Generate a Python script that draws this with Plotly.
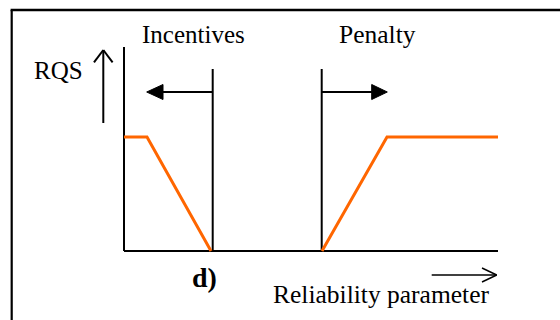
import plotly.graph_objects as go

# RQS curve, x = reliability parameter, y = RQS level (pixel-like units from the sketch)
incentive_x = [0, 23, 87]
incentive_y = [114, 114, 0]
penalty_x = [198, 263, 374]
penalty_y = [0, 114, 114]

ORANGE = "#FF6600"
FONT = "Liberation Serif"

fig = go.Figure()

fig.add_trace(go.Scatter(x=incentive_x, y=incentive_y, mode="lines",
                         line=dict(color=ORANGE, width=3)))
fig.add_trace(go.Scatter(x=penalty_x, y=penalty_y, mode="lines",
                         line=dict(color=ORANGE, width=3)))


def seg(x0, y0, x1, y1, w=2):
    fig.add_shape(type="line", x0=x0, y0=y0, x1=x1, y1=y1,
                  line=dict(color="black", width=w), layer="below")


def tri(path):
    fig.add_shape(type="path", path=path, fillcolor="black",
                  line=dict(color="black", width=1))


# frame (left and top edges only)
seg(-112.3, -80, -112.3, 241, 2.2)
seg(-113.4, 241, 440, 241, 2.6)

# axes
seg(0, 0, 0, 204)
seg(0, 0, 374, 0)

# threshold lines
seg(88.7, 0, 88.7, 182)
seg(197.7, 0, 197.7, 182)

# incentive arrow (left)
seg(39, 159, 88.7, 159)
tri("M 22.7 159 L 39 166.5 L 39 151.5 Z")

# penalty arrow (right)
seg(197.7, 159, 248, 159)
tri("M 263.3 159 L 247.7 166.5 L 247.7 151.5 Z")

# RQS up arrow (open head)
seg(-20.7, 128, -20.7, 201)
seg(-30, 188.7, -20.7, 201)
seg(-11.4, 188.7, -20.7, 201)

# reliability arrow (open head)
seg(307.7, -24, 372.7, -24, 1.4)
seg(358, -17, 372.7, -24, 1.4)
seg(358, -31, 372.7, -24, 1.4)

labels = [
    ("Incentives", 69.3, 217, 25, False),
    ("Penalty", 253.5, 217, 25.5, False),
    ("RQS", -66, 181, 25, False),
    ("d)", 80, -26, 28, True),
    ("Reliability parameter", 256.5, -43.5, 25.5, False),
]
for txt, x, y, size, bold in labels:
    fig.add_annotation(x=x, y=y, text=f"<b>{txt}</b>" if bold else txt,
                       showarrow=False, xanchor="center", yanchor="middle",
                       font=dict(family=FONT, size=size, color="black"))

fig.update_xaxes(range=[-124, 436], visible=False)
fig.update_yaxes(range=[-69, 251], visible=False)
fig.update_layout(width=560, height=320, margin=dict(l=0, r=0, t=0, b=0),
                  plot_bgcolor="white", paper_bgcolor="white",
                  showlegend=False)

# drop the default page margin so the figure sits flush in the window
fig.write_html("out.html", config={"displayModeBar": False},
               post_script="document.body.style.margin='0';"
                           "document.body.style.overflow='hidden';")
